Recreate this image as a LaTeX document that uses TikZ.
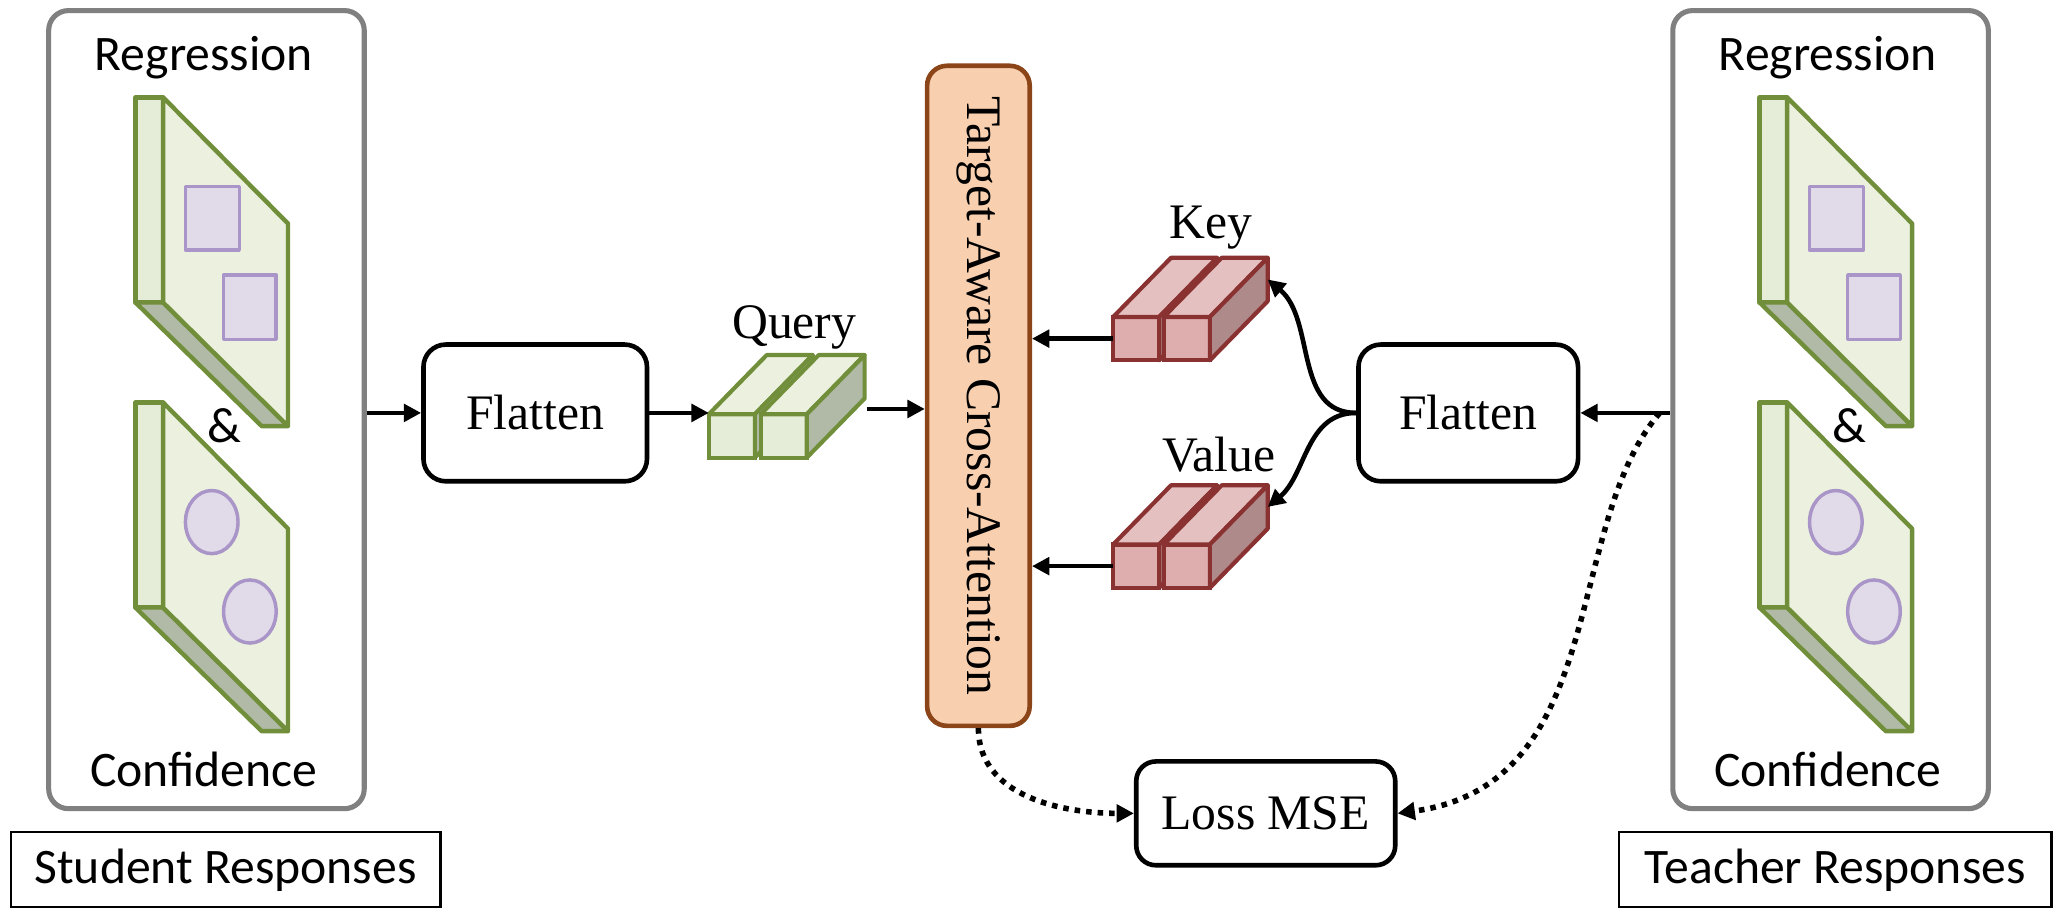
\documentclass[tikz,border=0pt]{standalone}
\usepackage{fontspec}
\setmainfont{Liberation Serif}
\newfontfamily\calibri{Carlito}
\usetikzlibrary{arrows.meta, calc, positioning}

\definecolor{panelgray}{RGB}{128,128,128}
\definecolor{leafedge}{RGB}{113,142,58}
\definecolor{leafface}{RGB}{235,241,222}
\definecolor{leafside}{RGB}{229,237,216}
\definecolor{leafbot}{RGB}{177,186,167}
\definecolor{lilacfill}{RGB}{224,218,233}
\definecolor{lilacedge}{RGB}{169,149,199}
\definecolor{rosefront}{RGB}{222,174,174}
\definecolor{rosetop}{RGB}{229,192,192}
\definecolor{roseside}{RGB}{175,138,138}
\definecolor{roseedge}{RGB}{138,50,50}
\definecolor{peach}{RGB}{248,208,176}
\definecolor{rust}{RGB}{139,69,24}

\begin{document}
\begin{tikzpicture}[x=0.02cm, y=0.02cm, font=\fontsize{21.5}{25}\selectfont,
    panel/.style={draw=panelgray, line width=2.2pt, rounded corners=0.3cm, minimum width=4.8cm, minimum height=12.14cm},
    sans/.style={font=\calibri\fontsize{21.5}{25}\selectfont},
    tag/.style={sans, draw, line width=0.9pt, minimum height=1.14cm},
    blk/.style={draw, line width=2pt, rounded corners=0.34cm, minimum height=2.08cm},
    att/.style={draw=rust, fill=peach, line width=2pt, rounded corners=0.3cm, rotate=-90, minimum width=10.04cm, minimum height=1.56cm},
    plate/.style={draw=leafedge, line width=1.9pt, line join=round},
    blob/.style={draw=lilacedge, fill=lilacfill, line width=1.5pt},
    face/.style={line width=1.8pt, outer sep=0pt, inner sep=0pt, minimum width=0.7cm, minimum height=0.66cm},
    arr/.style={-{Triangle[length=7.5pt,width=7.5pt]}, line width=2pt},
    dotarr/.style={arr, line width=2.4pt, dash pattern=on 2.4pt off 2.6pt}]

  \useasboundingbox (0,0) rectangle (1568,700);

  % response panels
  \node[panel] (spanel) at (157,388.5) {};
  \node[panel] (tpanel) at (1392,388.5) {};

  \foreach \dx in {0,1235} {
    \begin{scope}[shift={(\dx,0)}, plate]
      % regression map
      \draw[fill=leafside] (103,626) rectangle (124,470);
      \draw[fill=leafbot] (103,470) -- (124,470) -- (219,376) -- (199,376) -- cycle;
      \draw[fill=leafface] (124,626) -- (219,530) -- (219,376) -- (124,470) -- cycle;
      \draw[blob] (141,558) rectangle (182,510);
      \draw[blob] (170,491) rectangle (210,442);
      % confidence map
      \draw[fill=leafside] (103,394) rectangle (124,238);
      \draw[fill=leafbot] (103,238) -- (124,238) -- (219,144) -- (199,144) -- cycle;
      \draw[fill=leafface] (124,394) -- (219,298) -- (219,144) -- (124,238) -- cycle;
      \draw[blob] (161,303) ellipse [x radius=0.4cm, y radius=0.48cm];
      \draw[blob] (190,235) ellipse [x radius=0.4cm, y radius=0.48cm];
    \end{scope}
  }

  \node[sans] (sreg) at (155,656) {Regression};
  \node[sans] (samp) at (171,376) {\&};
  \node[sans] (sconf) at (155,115) {Confidence};
  \node[sans] (treg) at (1390,656) {Regression};
  \node[sans] (tamp) at (1406,376) {\&};
  \node[sans] (tconf) at (1390,115) {Confidence};

  \node[tag, minimum width=6.54cm] (stag) at (171.5,38.5) {Student Responses};
  \node[tag, minimum width=6.58cm] (ttag) at (1395.5,38.5) {Teacher Responses};

  % main blocks
  \node[blk, minimum width=3.4cm] (flat1) at (407,386) {Flatten};
  \node[blk, minimum width=3.34cm] (flat2) at (1116.5,386) {Flatten};
  \node[att] (att) at (744,399) {Target-Aware Cross-Attention};
  \node[blk, minimum width=3.94cm, minimum height=1.58cm, rounded corners=0.3cm] (loss) at (962.5,81.5) {Loss MSE};

  % query, key and value tokens
  \foreach \name/\x/\y/\cf/\ct/\cs/\ce in {
      q1/556.5/368.5/leafside/leafface/leafbot/leafedge,
      q2/596/368.5/leafside/leafface/leafbot/leafedge,
      k1/864/442.5/rosefront/rosetop/roseside/roseedge,
      k2/902.5/442.5/rosefront/rosetop/roseside/roseedge,
      v1/864/269.5/rosefront/rosetop/roseside/roseedge,
      v2/902.5/269.5/rosefront/rosetop/roseside/roseedge} {
    \node[face, draw=\ce, fill=\cf] (\name) at (\x,\y) {};
    \draw[line width=1.8pt, line join=round, draw=\ce, fill=\ct] (\name.north west) -- ++(44,45) -- ++(35,0) -- (\name.north east) -- cycle;
    \draw[line width=1.8pt, line join=round, draw=\ce, fill=\cs] (\name.north east) -- ++(44,45) -- ++(0,-33) -- (\name.south east) -- cycle;
  }

  \node (query) at (604,451) {Query};
  \node (key) at (921,527) {Key};
  \node (value) at (927,354) {Value};

  \coordinate (qout) at ($(q2.south east)+(46,37)$);
  \coordinate (kside) at ($(k2.east)+(44,45)$);
  \coordinate (vside) at ($(v2.east)+(44,45)$);

  % connectors (att is turned, so its south side faces left)
  \draw[arr] (spanel.east |- flat1.west) -- (flat1.west);
  \draw[arr] (flat1.east) -- (flat1.east -| q1.west);
  \draw[arr] (qout) -- (qout -| att.south);
  \draw[arr] (k1.west) -- (k1.west -| att.north);
  \draw[arr] (v1.west) -- (v1.west -| att.north);
  \draw[arr] (tpanel.west |- flat2.east) -- (flat2.east);
  \draw[arr] (flat2.west) to[out=180, in=-40] (kside);
  \draw[arr] (flat2.west) to[out=180, in=40] (vside);

  \draw[dotarr] (att.east) to[out=-90, in=180] (loss.west);
  \draw[dotarr] ($(tpanel.west |- flat2.east)+(-8,0)$) .. controls +(-74,-86) and +(162,22) .. (loss.east);
\end{tikzpicture}
\end{document}
